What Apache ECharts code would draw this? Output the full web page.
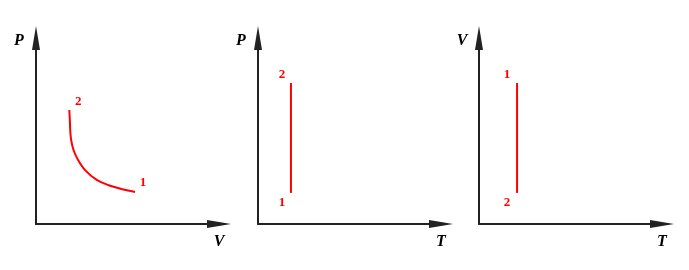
<!DOCTYPE html>
<html>
<head>
<meta charset="utf-8">
<script src="https://cdn.jsdelivr.net/npm/echarts@6/dist/echarts.min.js"></script>
<style>html,body{margin:0;padding:0;background:#fff}#c{width:689px;height:270px}</style>
</head>
<body>
<div id="c"></div>
<script>
// Panel 1: P-V curve (process 2 -> 1)
const pvV = [1.82, 1.85, 1.87, 1.92, 2.05, 2.30, 2.68, 3.32, 3.93, 4.48, 4.97, 5.41];
const pvP = [6.13, 5.59, 5.05, 4.52, 3.98, 3.44, 2.90, 2.37, 2.10, 1.94, 1.81, 1.72];
const pvLabels = ['2', '', '', '', '', '', '', '', '', '', '', '1'];
// Panel 2: P-T (isothermal)
const ptT = [1.80, 1.80];
const ptP = [1.67, 7.58];
const ptLabels = ['1', '2'];
// Panel 3: V-T (isothermal)
const vtT = [2.08, 2.08];
const vtV = [7.58, 1.67];
const vtLabels = ['1', '2'];
// Axis names [x, y]
const axisNames = [['V', 'P'], ['T', 'P'], ['T', 'V']];

const red = '#ff0000';
const axisColor = '#222';
const lefts = [36, 258, 479];
const gridW = 183, gridTop = 38, gridH = 186;

function axis(isX) {
  return {
    type: 'value', min: 0, max: 10,
    axisLine: {show: true, onZero: false,
      symbol: ['none', 'path://M5,0 L10,30 L0,30 Z'],
      symbolSize: isX ? [8, 27] : [8, 24],
      lineStyle: {color: axisColor, width: 2}},
    axisTick: {show: false}, axisLabel: {show: false}, splitLine: {show: false}
  };
}

const labelOffsets = [
  {'2': [9, -8], '1': [8, -9]},
  {'2': [-9, -8], '1': [-9, 10]},
  {'1': [-10, -8], '2': [-10, 10]}
];

function buildData(xs, ys, labels, pi) {
  return xs.map((x, i) => {
    const item = {value: [x, ys[i]]};
    if (labels[i]) {
      item.label = {show: true, formatter: labels[i], position: 'inside',
        offset: labelOffsets[pi][labels[i]], color: red,
        fontFamily: 'Liberation Serif', fontWeight: 'bold', fontSize: 13};
    }
    return item;
  });
}

const panels = [[pvV, pvP, pvLabels, true], [ptT, ptP, ptLabels, false], [vtT, vtV, vtLabels, false]];

const grids = [], xAxes = [], yAxes = [], series = [], graphics = [];
panels.forEach((p, i) => {
  grids.push({left: lefts[i], top: gridTop, width: gridW, height: gridH});
  xAxes.push(Object.assign(axis(true), {gridIndex: i}));
  yAxes.push(Object.assign(axis(false), {gridIndex: i}));
  series.push({
    type: 'line', xAxisIndex: i, yAxisIndex: i,
    data: buildData(p[0], p[1], p[2], i),
    smooth: p[3] ? 0.3 : false,
    symbol: 'circle', symbolSize: 0, showSymbol: true,
    lineStyle: {color: red, width: 2}, itemStyle: {color: red},
    silent: true, animation: false
  });
  const nameStyle = {fill: '#000', font: 'italic bold 16px "Liberation Serif"', textAlign: 'center', textVerticalAlign: 'middle'};
  graphics.push({type: 'text', x: lefts[i] - 17, y: 41, style: Object.assign({text: axisNames[i][1]}, nameStyle)});
  graphics.push({type: 'text', x: lefts[i] + gridW, y: 242, style: Object.assign({text: axisNames[i][0]}, nameStyle)});
});

const chart = echarts.init(document.getElementById('c'), null, {renderer: 'canvas'});
chart.setOption({
  animation: false,
  grid: grids, xAxis: xAxes, yAxis: yAxes, series: series,
  graphic: graphics
});
</script>
</body>
</html>
